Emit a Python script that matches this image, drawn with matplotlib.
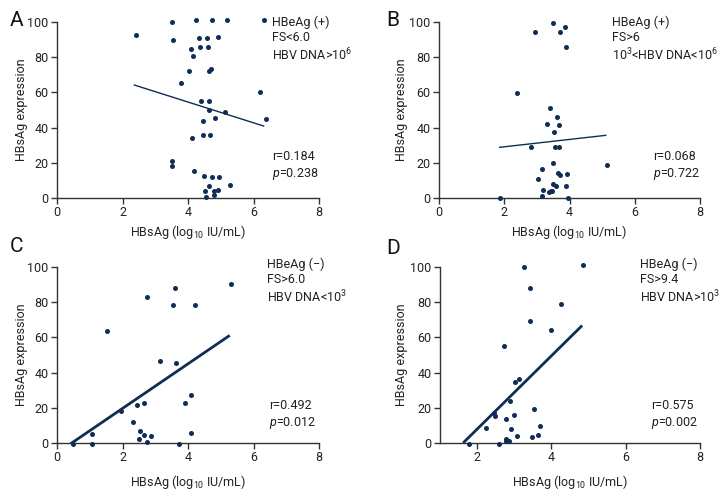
import numpy as np
import matplotlib
matplotlib.use("Agg")
import matplotlib.pyplot as plt

plt.rcParams['font.family'] = ['Roboto', 'DejaVu Sans']
plt.rcParams['mathtext.fontset'] = 'custom'
plt.rcParams['mathtext.rm'] = 'Roboto'
plt.rcParams['mathtext.it'] = 'Roboto:italic'

# panel A: HBeAg(+), FS<6.0
a_x = [2.40, 3.50, 4.23, 4.72, 5.20, 6.33, 3.53, 4.35, 4.59, 4.93, 4.10, 4.37, 4.61, 4.16,
       4.02, 4.64, 4.70, 3.78, 6.21, 4.40, 4.64, 4.65, 5.12, 6.37, 4.83, 4.47, 4.46, 4.67,
       4.11, 3.51, 3.51, 4.18, 4.50, 4.72, 4.94, 5.29, 4.63, 4.51, 4.78, 4.92, 4.78, 4.56]
a_y = [92.8, 100, 101, 101, 101, 101, 89.8, 90.7, 90.7, 91.7, 84.5, 86, 86, 80.5,
       72.3, 72.3, 73.1, 65.3, 60.2, 55.3, 55.3, 49.8, 49.1, 45.1, 45.3, 43.9, 36, 36,
       33.9, 20.8, 18.4, 15.3, 12.7, 11.7, 11.7, 7.6, 6.8, 3.8, 3.8, 4.5, 1.9, 0.6]
a_fit_x = [2.36, 6.31]
a_fit_y = [64.2, 40.9]

# panel B: HBeAg(+), FS>6
b_x = [3.50, 3.86, 2.94, 3.71, 3.89, 2.38, 3.39, 3.63, 3.31, 3.68, 3.54, 2.83, 3.57, 3.67,
       3.50, 5.16, 3.15, 3.66, 3.71, 3.92, 3.03, 3.19, 3.49, 3.60, 3.89, 3.42, 3.47, 3.37,
       3.16, 1.88, 3.94]
b_y = [99.6, 97.3, 94.5, 94.1, 85.6, 59.8, 51.1, 46.2, 42, 41.3, 37.7, 29, 29, 29,
       20.1, 18.8, 16.3, 14, 13.1, 13.8, 11, 4.7, 8, 7, 6.6, 3.8, 4.2, 3.2,
       0.9, 0, 0]
b_fit_x = [1.86, 5.11]
b_fit_y = [28.8, 35.6]

# panel C: HBeAg(-), FS>6.0
c_x = [5.30, 3.59, 2.75, 3.55, 4.20, 1.52, 3.16, 3.63, 4.09, 3.92, 2.65, 2.45, 1.95, 2.33,
       2.54, 2.66, 2.87, 2.49, 2.75, 4.10, 1.08, 0.48, 1.08, 3.73]
c_y = [90.1, 87.9, 82.7, 78.6, 78.2, 63.4, 46.7, 45.4, 27.1, 23, 22.6, 21.8, 18.4, 11.8,
       6.6, 4.6, 3.8, 2.5, 0.6, 5.7, 4.9, -0.6, -0.6, -0.6]
c_fit_x = [0.45, 5.24]
c_fit_y = [0.0, 60.7]

# panel D: HBeAg(-), FS>9.4
d_x = [4.85, 3.25, 3.43, 4.27, 3.43, 3.99, 2.71, 3.12, 3.01, 2.88, 3.54, 2.45, 2.48, 2.99,
       2.79, 3.69, 2.25, 2.90, 3.07, 3.49, 3.63, 2.77, 2.79, 2.87, 2.60, 1.77]
d_y = [101, 99.8, 87.9, 78.9, 69.4, 64.3, 55, 36.1, 34.9, 23.9, 19.4, 17.3, 15.4, 15.7,
       13.7, 9.7, 8.5, 7.8, 3.8, 3.2, 4.6, 2.1, 1.1, 0.9, -0.5, -0.4]
d_fit_x = [1.65, 4.80]
d_fit_y = [0.6, 66.2]

panels = [
    ('A', a_x, a_y, a_fit_x, a_fit_y, 0, 1.0,
     ['HBeAg (+)', 'FS<6.0', 'HBV DNA>10$^{6}$'], 'r=0.184', '0.238'),
    ('B', b_x, b_y, b_fit_x, b_fit_y, 0, 1.0,
     ['HBeAg (+)', 'FS>6', '10$^{3}$<HBV DNA<10$^{6}$'], 'r=0.068', '0.722'),
    ('C', c_x, c_y, c_fit_x, c_fit_y, 0, 2.0,
     ['HBeAg (\u2212)', 'FS>6.0', 'HBV DNA<10$^{3}$'], 'r=0.492', '0.012'),
    ('D', d_x, d_y, d_fit_x, d_fit_y, 1, 2.0,
     ['HBeAg (\u2212)', 'FS>9.4', 'HBV DNA>10$^{3}$'], 'r=0.575', '0.002'),
]

col = '#0f2d55'
W, H = 720, 504
fs = 9
fig = plt.figure(figsize=(7.2, 5.04), dpi=100)

# pixel boxes [left, right, top, bottom]
boxes = [[57, 319, 22, 198], [439, 700, 22, 198], [57, 319, 267, 443], [440, 700, 267, 443]]
# annotation positions (pixel) for the info block and r/p block
info_pos = [(272, 16), (612, 16), (267, 258), (640, 258)]
stat_pos = [(272, 166), (653, 166), (269, 415), (651, 415)]
letter_pos = [(10, 20), (386, 20), (10, 246), (386, 248)]
ylab_x = [22, 402, 22, 402]
xlab_y = [232, 232, 482, 482]

for i, (lab, x, y, fx, fy, xmin, lw, info, rtxt, ptxt) in enumerate(panels):
    l, r, t, b = boxes[i]
    ax = fig.add_axes([l / W, 1 - b / H, (r - l) / W, (b - t) / H])
    ax.scatter(x, y, s=13, color=col, clip_on=False, zorder=3, linewidths=0)
    ax.plot(fx, fy, color=col, lw=lw, clip_on=False)
    ax.set_xlim(xmin, 8)
    ax.set_ylim(0, 100)
    ax.set_xticks([t_ for t_ in [0, 2, 4, 6, 8] if t_ >= xmin])
    ax.set_yticks([0, 20, 40, 60, 80, 100])
    ax.spines['top'].set_visible(False)
    ax.spines['right'].set_visible(False)
    for s in ['left', 'bottom']:
        ax.spines[s].set_color('#333333')
        ax.spines[s].set_linewidth(1.0)
    ax.tick_params(direction='out', length=4, width=1, colors='#333333',
                   labelcolor='#222222', labelsize=fs, pad=2)
    fig.text(ylab_x[i] / W, 1 - (t + b) / 2 / H, 'HBsAg expression', rotation=90,
             ha='center', va='center', fontsize=fs, color='#222222')
    fig.text((l + r) / 2 / W, 1 - xlab_y[i] / H, 'HBsAg (log$_{10}$ IU/mL)',
             ha='center', va='center', fontsize=fs, color='#222222')
    ix, iy = info_pos[i]
    fig.text(ix / W, 1 - iy / H, '\n'.join(info), ha='left', va='top',
             fontsize=fs, color='#222222', linespacing=1.2)
    sx, sy = stat_pos[i]
    fig.text(sx / W, 1 - sy / H, rtxt + '\n$p$=' + ptxt, ha='left', va='center',
             fontsize=fs, color='#222222', linespacing=1.2)
    px, py = letter_pos[i]
    fig.text(px / W, 1 - py / H, lab, ha='left', va='center', fontsize=15, color='#111111')

plt.savefig('out.png', dpi=100)
